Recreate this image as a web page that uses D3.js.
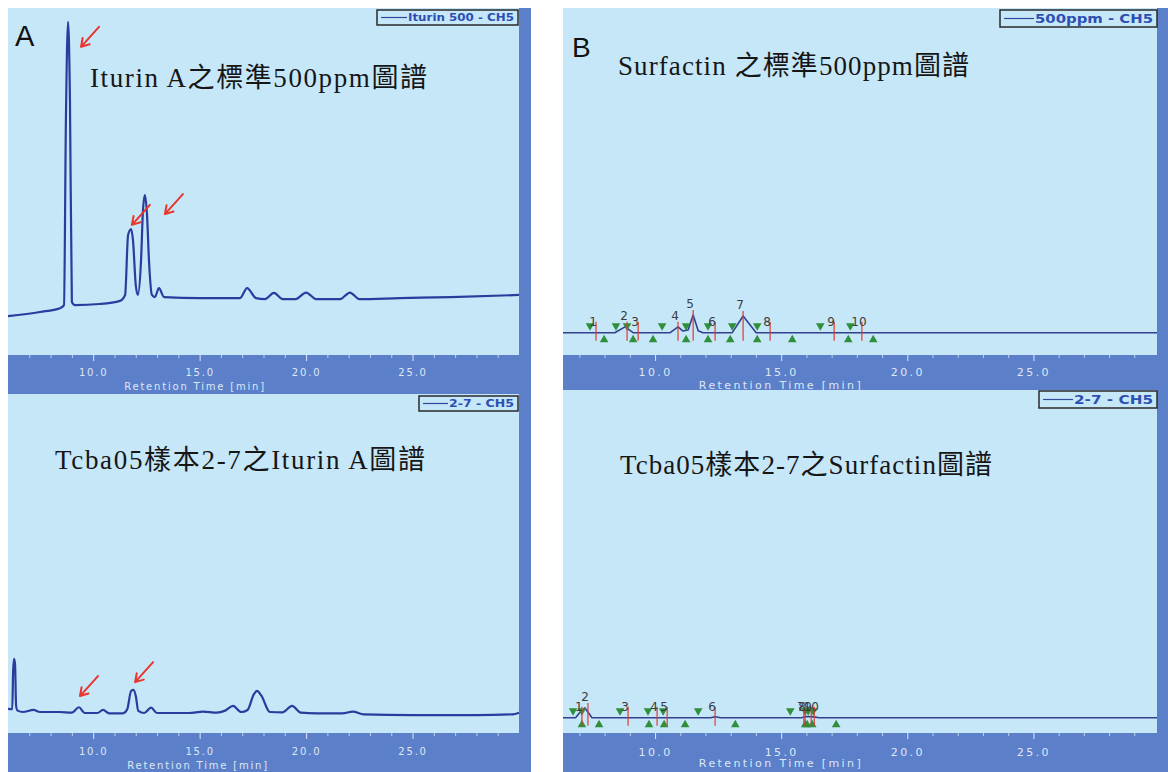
<!DOCTYPE html>
<html>
<head>
<meta charset="utf-8">
<script src="https://cdn.jsdelivr.net/npm/d3@7"></script>
<style>
  body { margin: 0; background: #fff; }
  svg { display: block; }
</style>
</head>
<body>
<div id="chart"></div>
<script>
// ---------- data (retention time in min, detector signal in % of panel height) ----------
const axisTicks = [10, 15, 20, 25];
const minorTicks = [7, 8, 9, 11, 12, 13, 14, 16, 17, 18, 19, 21, 22, 23, 24, 26, 27, 28, 29];

// A: Iturin A standard 500 ppm
const iturinStdTime = [6.0, 7.5, 8.44, 8.63, 8.72, 8.82, 8.91, 9.0, 9.15, 10.3,
  11.26, 11.5, 11.64, 11.78, 11.87, 12.0, 12.1, 12.25, 12.34, 12.43,
  12.53, 12.62, 12.76, 12.9, 13.09, 13.33, 15.0, 16.9, 17.23, 17.65,
  18.07, 18.49, 18.9, 19.5, 20.0, 20.47, 21.6, 22.06, 22.5, 24.4, 26.8, 30.0];
const iturinStdSignal = [11.2, 12.4, 13.5, 14.4, 67.7, 96.0, 73.5, 15.3, 14.4, 14.7,
  15.6, 17.3, 34.6, 36.3, 33.1, 20.2, 17.3, 27.4, 41.8, 46.1,
  40.3, 27.4, 17.3, 16.7, 19.3, 16.7, 16.4, 16.4, 19.3, 16.4,
  16.1, 17.9, 16.1, 16.1, 18.0, 16.1, 16.1, 18.0, 16.1, 16.4, 16.7, 17.3];
const iturinStdArrowTime = [9.43, 11.82, 13.37];
const iturinStdArrowSignal = [88.8, 37.5, 40.6];

// A: sample Tcba05 2-7
const iturinSampleTime = [6.0, 6.2, 6.24, 6.28, 6.33, 6.38, 6.45, 6.7, 7.2, 7.5,
  8.4, 9.0, 9.33, 9.6, 10.2, 10.46, 10.75, 11.4, 11.6, 11.78,
  11.89, 12.0, 12.12, 12.4, 12.72, 13.0, 14.5, 15.16, 15.8, 16.2,
  16.57, 16.95, 17.25, 17.55, 17.7, 17.9, 18.3, 18.9, 19.34, 19.75,
  20.5, 21.7, 22.2, 22.7, 25.0, 28.0, 29.7, 30.0];
const iturinSampleSignal = [7.1, 7.0, 18.0, 21.9, 20.5, 8.0, 6.6, 6.2, 6.8, 6.2,
  6.2, 6.0, 7.6, 5.9, 5.9, 6.8, 5.8, 5.8, 7.0, 12.4,
  12.7, 11.0, 6.5, 5.9, 7.5, 5.9, 5.9, 6.3, 6.0, 6.6,
  8.0, 6.2, 6.8, 11.5, 12.4, 11.0, 6.2, 6.1, 8.0, 6.0,
  5.8, 5.8, 6.3, 5.5, 5.3, 5.3, 5.5, 6.0];
const iturinSampleArrowTime = [9.38, 11.97];
const iturinSampleArrowSignal = [10.9, 15.0];

// B: Surfactin standard 500 ppm
const surfStdTime = [6.35, 8.4, 8.81, 9.13, 10.6, 10.91, 11.11, 11.31, 11.51, 11.71, 11.9, 13.06, 13.49, 14.01, 29.9];
const surfStdSignal = [6.43, 6.43, 8.1, 6.43, 6.43, 8.1, 6.9, 7.2, 11.5, 7.0, 6.43, 6.43, 11.24, 6.43, 6.43];
const surfStdBaseline = 6.43;
const surfStdPeakTime = [7.66, 8.89, 9.33, 10.91, 11.51, 12.38, 13.49, 14.56, 17.1, 18.2];
const surfStdPeakHeight = [6.43, 8.1, 6.43, 8.1, 11.5, 6.43, 11.24, 6.43, 6.43, 6.43];
const surfStdStart = [7.42, 8.45, 8.89, 10.28, 11.23, 12.10, 13.06, 14.05, 16.55, 17.74];
const surfStdEnd = [7.98, 9.13, 9.92, 11.23, 12.10, 12.98, 14.05, 15.44, 17.66, 18.65];

// B: sample Tcba05 2-7
const surfSampleTime = [6.35, 6.85, 7.0, 7.22, 7.5, 12.2, 12.38, 12.6, 15.8, 16.0, 16.3, 16.5, 29.9];
const surfSampleSignal = [4.46, 4.46, 5.8, 7.3, 4.46, 4.46, 4.75, 4.46, 4.46, 4.8, 4.7, 4.46, 4.46];
const surfSampleBaseline = 4.46;
const surfSamplePeakTime = [7.10, 7.34, 8.93, 10.08, 10.48, 12.38, 15.9, 15.95, 16.19, 16.31];
const surfSamplePeakHeight = [4.46, 7.29, 4.46, 4.46, 4.46, 4.46, 4.46, 4.46, 4.46, 4.46];
const surfSampleStart = [6.75, 7.10, 8.61, 9.72, 10.32, 11.71, 15.36, 15.95, 16.07, 16.27];
const surfSampleEnd = [7.10, 7.78, 9.76, 10.36, 11.19, 13.18, 15.95, 16.03, 16.23, 17.18];

const peakNames = ["1", "2", "3", "4", "5", "6", "7", "8", "9", "10"];

// ---------- drawing ----------
const W = 1168, H = 772;
const LIGHT = "#c6e7f8", BAND = "#5b80c9", TICK = "#dde7f6", TRACE = "#2b3b9e";
const GREEN = "#2f8f3a", RED = "#e03a34", ARROW = "#e8362d";

const svg = d3.select("#chart").append("svg")
  .attr("width", W)
  .attr("height", H);

function drawPanel(p) {
  const x = d3.scaleLinear().domain(p.domain).range([p.left, p.right]);
  const y = d3.scaleLinear().domain([0, 100]).range([p.bottom, p.top]);

  svg.append("rect")
    .attr("x", p.left).attr("y", p.top)
    .attr("width", p.right - p.left).attr("height", p.bottom - p.top)
    .attr("fill", LIGHT);

  svg.append("rect")
    .attr("x", p.left).attr("y", p.bottom)
    .attr("width", p.right - p.left).attr("height", p.bandBottom - p.bottom)
    .attr("fill", BAND);

  const minor = svg.append("g")
    .attr("transform", `translate(0,${p.bottom})`)
    .call(d3.axisBottom(x).tickValues(minorTicks).tickSize(3).tickFormat(""));
  minor.select(".domain").remove();
  minor.selectAll("line").attr("stroke", TICK).attr("opacity", 0.75);

  const major = svg.append("g")
    .attr("transform", `translate(0,${p.bottom})`)
    .call(d3.axisBottom(x).tickValues(axisTicks).tickSize(6).tickPadding(p.pad).tickFormat(d3.format(".1f")));
  major.select(".domain").remove();
  major.selectAll("line").attr("stroke", TICK);
  major.selectAll("text")
    .attr("fill", TICK)
    .style("font-family", "'DejaVu Sans', sans-serif")
    .style("font-size", p.font + "px")
    .style("letter-spacing", p.spacing + "px");

  svg.append("text")
    .attr("x", p.axisTitleX)
    .attr("y", p.axisTitleY)
    .attr("dy", "0.35em")
    .attr("text-anchor", "middle")
    .style("font-family", "'DejaVu Sans', sans-serif")
    .style("font-size", p.font + "px")
    .style("letter-spacing", p.spacing + "px")
    .style("fill", TICK)
    .text("Retention Time [min]");

  return { x, y };
}

function drawTrace(sc, times, signal, curve, color, width) {
  svg.append("path")
    .datum(d3.zip(times, signal))
    .attr("fill", "none")
    .attr("stroke", color)
    .attr("stroke-width", width)
    .attr("stroke-linejoin", "round")
    .attr("d", d3.line().x(d => sc.x(d[0])).y(d => sc.y(d[1])).curve(curve));
}

function drawLegend(box, lineEnd, label, fontSize, textWidth) {
  const [x0, y0, x1, y1] = box;
  const my = (y0 + y1) / 2;
  svg.append("rect")
    .attr("x", x0).attr("y", y0)
    .attr("width", x1 - x0).attr("height", y1 - y0)
    .attr("fill", LIGHT)
    .attr("stroke", "#2a2a2a")
    .attr("stroke-width", 1.5);
  svg.append("line")
    .attr("x1", x0 + 4).attr("x2", lineEnd)
    .attr("y1", my).attr("y2", my)
    .attr("stroke", "#34479f")
    .attr("stroke-width", 1.2);
  svg.append("text")
    .attr("x", lineEnd + 1)
    .attr("y", my)
    .attr("dy", "0.36em")
    .attr("textLength", textWidth)
    .attr("lengthAdjust", "spacingAndGlyphs")
    .style("font-family", "'DejaVu Sans', sans-serif")
    .style("font-weight", "bold")
    .style("font-size", fontSize + "px")
    .style("fill", "#2d4fb3")
    .text(label);
}

function drawArrows(sc, times, signal) {
  const len = 9;
  times.forEach((t, i) => {
    const tx = sc.x(t), ty = sc.y(signal[i]);
    const sx = tx + 18, sy = ty - 20;
    const ang = Math.atan2(ty - sy, tx - sx);
    const a1 = ang + Math.PI - 0.55, a2 = ang + Math.PI + 0.55;
    svg.append("path")
      .attr("d", `M${sx},${sy}L${tx},${ty}M${tx + len * Math.cos(a1)},${ty + len * Math.sin(a1)}L${tx},${ty}L${tx + len * Math.cos(a2)},${ty + len * Math.sin(a2)}`)
      .attr("fill", "none")
      .attr("stroke", ARROW)
      .attr("stroke-width", 2)
      .attr("stroke-linecap", "round")
      .attr("stroke-linejoin", "round");
  });
}

function drawPeakMarks(sc, peakTime, peakHeight, start, end, base) {
  const by = sc.y(base);
  const g = svg.append("g");
  const tri = d3.symbol(d3.symbolTriangle, 32);

  g.selectAll("path.down").data(start).join("path")
    .attr("class", "down")
    .attr("transform", d => `translate(${sc.x(d)},${by - 7}) rotate(180)`)
    .attr("d", tri)
    .attr("fill", GREEN);

  g.selectAll("path.up").data(end).join("path")
    .attr("class", "up")
    .attr("transform", d => `translate(${sc.x(d)},${by + 7})`)
    .attr("d", tri)
    .attr("fill", GREEN);

  g.selectAll("line.apex").data(peakTime).join("line")
    .attr("class", "apex")
    .attr("x1", d => sc.x(d)).attr("x2", d => sc.x(d))
    .attr("y1", (d, i) => Math.min(sc.y(peakHeight[i]) - 5, by - 11))
    .attr("y2", by + 8)
    .attr("stroke", RED)
    .attr("stroke-width", 1.2);

  g.selectAll("text.pk").data(peakTime).join("text")
    .attr("class", "pk")
    .attr("x", d => sc.x(d) - 3)
    .attr("y", (d, i) => sc.y(peakHeight[i]) - 11)
    .attr("dy", "0.35em")
    .attr("text-anchor", "middle")
    .style("font-family", "'DejaVu Sans', sans-serif")
    .style("font-size", "12px")
    .style("fill", "#3c3c3c")
    .text((d, i) => peakNames[i]);
}

function drawTitle(x, y, width, label) {
  svg.append("text")
    .attr("x", x).attr("y", y)
    .attr("textLength", width)
    .attr("lengthAdjust", "spacing")
    .style("font-family", "'Liberation Serif', 'Noto Sans CJK TC', serif")
    .style("font-size", "27px")
    .style("fill", "#161616")
    .text(label);
}

// right-hand strips of both figure halves
svg.append("rect").attr("x", 519).attr("y", 8).attr("width", 12).attr("height", H - 8).attr("fill", BAND);
svg.append("rect").attr("x", 1157).attr("y", 8).attr("width", 11).attr("height", H - 8).attr("fill", BAND);

// ---- A top ----
const aTop = drawPanel({ left: 8, right: 519, top: 8, bottom: 355, bandBottom: 394, domain: [6, 30],
  pad: 7.5, font: 10, spacing: 1.8, axisTitleX: 195, axisTitleY: 386 });
drawTrace(aTop, iturinStdTime, iturinStdSignal, d3.curveMonotoneX, TRACE, 2.2);
drawLegend([377, 10, 518, 25], 407, "Iturin 500 - CH5", 10.5, 106);
drawArrows(aTop, iturinStdArrowTime, iturinStdArrowSignal);
drawTitle(90, 87, 337, "Iturin A之標準500ppm圖譜");

// ---- A bottom ----
const aBot = drawPanel({ left: 8, right: 519, top: 394, bottom: 733, bandBottom: 772, domain: [6, 30],
  pad: 9, font: 10, spacing: 1.8, axisTitleX: 198, axisTitleY: 765 });
drawTrace(aBot, iturinSampleTime, iturinSampleSignal, d3.curveMonotoneX, TRACE, 2.2);
drawLegend([419, 396, 518, 411], 448, "2-7 - CH5", 10.5, 65);
drawArrows(aBot, iturinSampleArrowTime, iturinSampleArrowSignal);
drawTitle(55, 469, 370, "Tcba05樣本2-7之Iturin A圖譜");

// ---- B top ----
const bTop = drawPanel({ left: 563, right: 1157, top: 8, bottom: 355, bandBottom: 390, domain: [6.35, 29.9],
  pad: 7, font: 11, spacing: 2.4, axisTitleX: 781, axisTitleY: 385 });
drawTrace(bTop, surfStdTime, surfStdSignal, d3.curveLinear, "#33408e", 1.6);
drawPeakMarks(bTop, surfStdPeakTime, surfStdPeakHeight, surfStdStart, surfStdEnd, surfStdBaseline);
drawLegend([1000, 10, 1157, 27], 1034, "500ppm - CH5", 12, 118);
drawTitle(618, 75, 351, "Surfactin 之標準500ppm圖譜");

// ---- B bottom ----
const bBot = drawPanel({ left: 563, right: 1157, top: 390, bottom: 733, bandBottom: 772, domain: [6.35, 29.9],
  pad: 9, font: 11, spacing: 2.4, axisTitleX: 781, axisTitleY: 763 });
drawTrace(bBot, surfSampleTime, surfSampleSignal, d3.curveLinear, "#33408e", 1.6);
drawPeakMarks(bBot, surfSamplePeakTime, surfSamplePeakHeight, surfSampleStart, surfSampleEnd, surfSampleBaseline);
drawLegend([1039, 391, 1157, 408], 1073, "2-7 - CH5", 12, 79);
drawTitle(620, 474, 372, "Tcba05樣本2-7之Surfactin圖譜");

// panel letters
svg.append("text").attr("x", 15).attr("y", 46)
  .style("font-family", "'Liberation Sans', Arial, sans-serif").style("font-size", "29px").style("fill", "#111")
  .text("A");
svg.append("text").attr("x", 572).attr("y", 57)
  .style("font-family", "'Liberation Sans', Arial, sans-serif").style("font-size", "28px").style("fill", "#111")
  .text("B");
</script>
</body>
</html>
